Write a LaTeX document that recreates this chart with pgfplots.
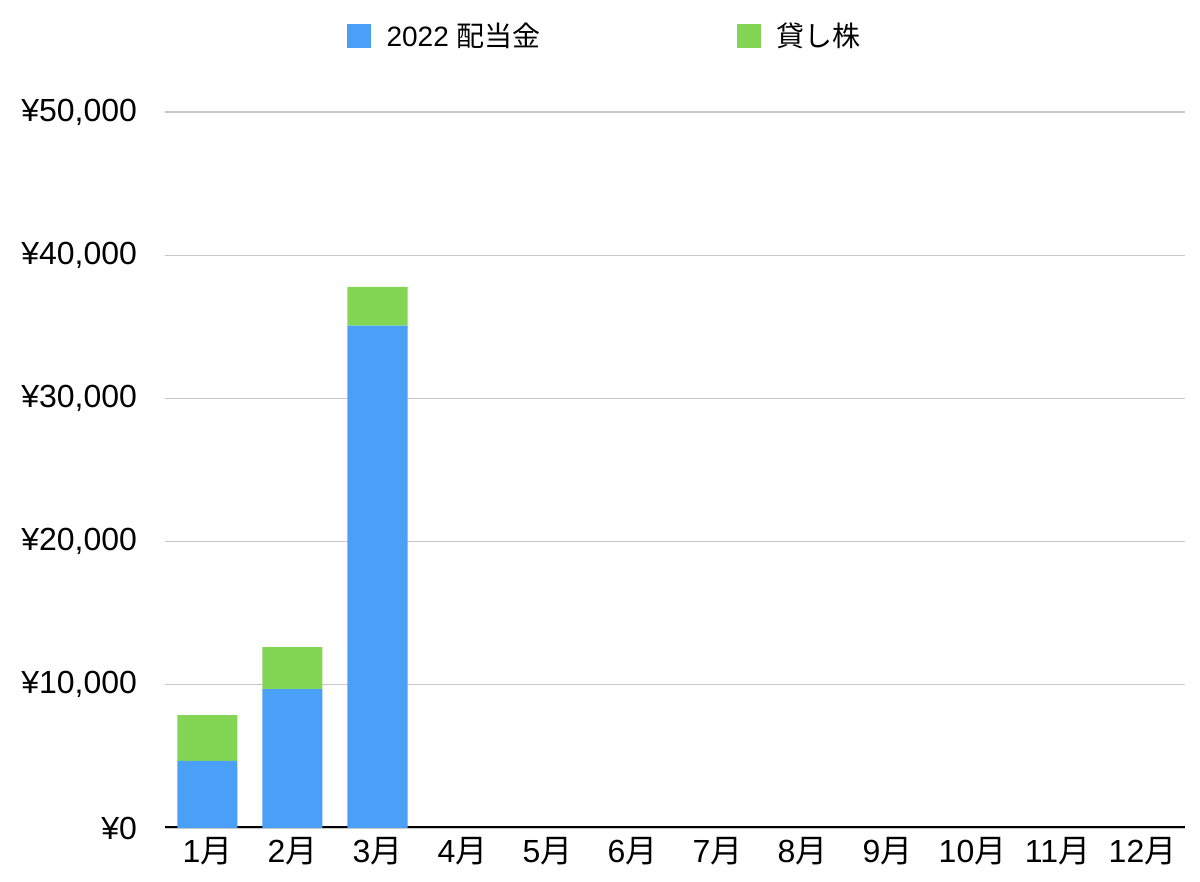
\documentclass[border=0pt]{standalone}
\usepackage{fontspec}
\setmainfont{Liberation Sans}
\newfontfamily\jp{Noto Sans CJK JP}
\usepackage{pgfplots}
\pgfplotsset{compat=1.18}

\definecolor{divblue}{RGB}{74,159,247}
\definecolor{lendgreen}{RGB}{131,214,83}

\begin{document}
\begin{tikzpicture}
\begin{axis}[
	scale only axis,
	width=510pt, height=358pt,
	ybar stacked,
	bar width=30pt,
	xmin=0.5, xmax=12.5,
	ymin=0, ymax=50000,
	scaled y ticks=false,
	xtick={1,...,12},
	xticklabels={{1\jp 月},{2\jp 月},{3\jp 月},{4\jp 月},{5\jp 月},{6\jp 月},
		{7\jp 月},{8\jp 月},{9\jp 月},{10\jp 月},{11\jp 月},{12\jp 月}},
	ytick={0,10000,20000,30000,40000,50000},
	yticklabels={{¥0},{¥10,000},{¥20,000},{¥30,000},{¥40,000},{¥50,000}},
	tick style={draw=none},
	ymajorgrids,
	grid style={draw=black!22, line width=0.6pt},
	axis line style={draw=none},
	ticklabel style={font=\fontsize{16}{19}\selectfont},
	yticklabel style={xshift=-10.5pt},
	xticklabel style={yshift=-1pt},
	legend columns=2,
	legend style={draw=none, fill=none,
		at={(axis description cs:0.432,1)}, anchor=center, yshift=38pt,
		font=\fontsize{14}{17}\selectfont,
		/tikz/every odd column/.append style={column sep=6pt},
		/tikz/every even column/.append style={column sep=96pt}},
	legend image code/.code={\fill[#1] (0pt,-6pt) rectangle (12pt,6pt);},
]
\addplot[fill=divblue, draw=none] coordinates {
	(1,4680) (2,9690) (3,35080) (4,0) (5,0) (6,0)
	(7,0) (8,0) (9,0) (10,0) (11,0) (12,0)
};
\addlegendentry{2022 {\jp 配当金}}
\addplot[fill=lendgreen, draw=none] coordinates {
	(1,3210) (2,2940) (3,2700) (4,0) (5,0) (6,0)
	(7,0) (8,0) (9,0) (10,0) (11,0) (12,0)
};
\addlegendentry{{\jp 貸し株}}
\draw[black, line width=1.5pt] (axis cs:0.5,0) -- (axis cs:12.5,0);
\end{axis}
\useasboundingbox (-82.5pt,-27pt) rectangle (517.5pt,414pt);
\end{tikzpicture}
\end{document}
